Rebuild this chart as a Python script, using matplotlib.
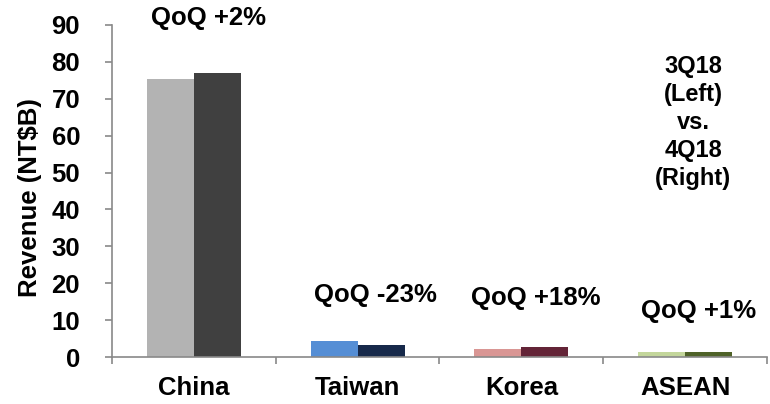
import numpy as np
import matplotlib.pyplot as plt

plt.rcParams['font.family'] = ['Liberation Sans', 'DejaVu Sans']
plt.rcParams['font.weight'] = 'bold'

# data
regions = ["China", "Taiwan", "Korea", "ASEAN"]
rev_3q18 = [75.3, 4.3, 2.2, 1.4]
rev_4q18 = [77.0, 3.3, 2.7, 1.4]
qoq_labels = ["QoQ +2%", "QoQ -23%", "QoQ +18%", "QoQ +1%"]
qoq_label_x = [0.09, 1.11, 2.09, 3.08]
qoq_label_y = [91.9, 16.8, 16.0, 12.5]

colors_3q = ["#B3B3B3", "#558ED5", "#D99694", "#C3D69B"]
colors_4q = ["#404040", "#17294A", "#632437", "#4F6228"]

fig = plt.figure(figsize=(7.7, 4.04), dpi=100)
ax = fig.add_axes([0.1455, 0.1163, 0.8505, 0.822])

x = np.arange(len(regions))
w = 0.287
ax.bar(x - w / 2, rev_3q18, width=w, color=colors_3q)
ax.bar(x + w / 2, rev_4q18, width=w, color=colors_4q)

ax.set_xlim(-0.5, len(regions) - 0.5)
ax.set_ylim(0, 90)
ax.set_yticks(range(0, 91, 10))
ax.set_xticks(x)
ax.set_xticklabels(regions)
ax.set_xticks(np.arange(-0.5, len(regions)), minor=True)
ax.tick_params(axis='x', which='major', length=0, pad=14, labelsize=18.5)
ax.tick_params(axis='x', which='minor', length=5, color='#898989', width=1.2)
ax.tick_params(axis='y', length=5, color='#898989', width=1.2, labelsize=18.5, pad=18)

for s in ['top', 'right']:
    ax.spines[s].set_visible(False)
for s in ['left', 'bottom']:
    ax.spines[s].set_color('#898989')
    ax.spines[s].set_linewidth(1.2)

ax.set_ylabel("Revenue (NT$B)", fontsize=18.5, fontweight='bold')
ax.yaxis.set_label_coords(-0.107, 0.48)

for lx, ly, lab in zip(qoq_label_x, qoq_label_y, qoq_labels):
    ax.text(lx, ly, lab, ha='center', va='center',
            fontsize=18.5, fontweight='bold', clip_on=False)

ax.text(3.05, 63.5, "3Q18\n(Left)\nvs.\n4Q18\n(Right)", ha='center', va='center',
        fontsize=17, fontweight='bold', linespacing=1.28)

fig.savefig("out.png", dpi=100)
